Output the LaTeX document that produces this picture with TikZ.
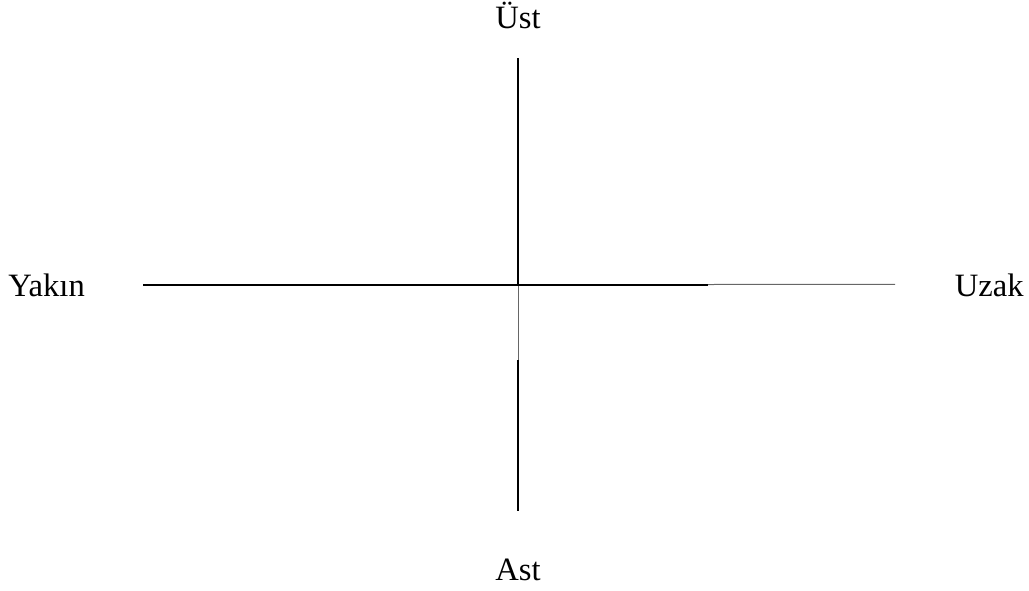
\documentclass[tikz,border=0pt]{standalone}
\usepackage{fontspec}
\setmainfont{Liberation Serif}
\begin{document}
\begin{tikzpicture}[x=0.5pt,y=-0.5pt,
  lbl/.style={anchor=base,inner sep=0pt,font=\fontsize{16.3}{19}\selectfont},
  thick axis/.style={line width=1pt,black},
  thin axis/.style={line width=0.5pt,black!60}]
\useasboundingbox (0,0) rectangle (1029,590);
\node[lbl] (ust) at (518,28) {Üst};
\node[lbl] (ast) at (518,580) {Ast};
\node[lbl,anchor=base west] (yakin) at (8,296) {Yakın};
\node[lbl,anchor=base east] (uzak) at (1024,296) {Uzak};
\coordinate (top) at (518,58);
\coordinate (bot) at (518,511);
\coordinate (c) at (518,284.5);
\coordinate (vmid) at (518,360);
\coordinate (left) at (143,284.5);
\coordinate (hmid) at (708,284.5);
\coordinate (right) at (895,284.3);
\draw[thick axis] (top) -- (c);
\draw[thin axis] (c) -- (vmid);
\draw[thick axis] (vmid) -- (bot);
\draw[thick axis] (left) -- (hmid);
\draw[thin axis] (hmid) -- (right);
\end{tikzpicture}
\end{document}
